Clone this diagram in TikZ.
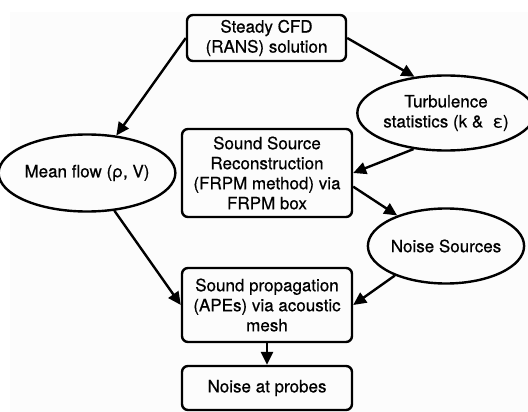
\documentclass[tikz,border=0pt]{standalone}
\usepackage{fontspec}
\setmainfont{TeX Gyre Heros}
\newfontfamily\medfont[FakeBold=0.6]{TeX Gyre Heros}
\usetikzlibrary{arrows.meta,shapes.geometric}
\tikzset{
  boxnode/.style={draw, line width=2.4pt, rounded corners=6pt, align=center, inner sep=0pt,
    font=\medfont\fontsize{17}{20}\selectfont},
  ellnode/.style={draw, ellipse, line width=2.4pt, align=center, inner sep=0pt,
    font=\medfont\fontsize{17}{20}\selectfont},
  conn/.style={line width=2.4pt, -{Triangle[length=13pt,width=12pt]}}
}
\begin{document}
\begin{tikzpicture}[x=1pt,y=-1pt]
\useasboundingbox (0,0) rectangle (528,412);
\fill[fill={rgb,255:red,252;green,252;blue,252}] (10,12) rectangle (528,412);
\node[boxnode, minimum width=159pt, minimum height=46pt] (top) at (266.5,38) {Steady CFD\\(RANS) solution};
\node[ellnode, minimum width=151pt, minimum height=75pt] (turb) at (446,113) {Turbulence\\statistics (k \&\ \ ε)};
\node[ellnode, minimum width=154pt, minimum height=77pt] (mean) at (87,173) {Mean flow (ρ, V)};
\node[boxnode, minimum width=170pt, minimum height=88pt] (src) at (267,173) {Sound Source\\Reconstruction\\(FRPM method) via\\FRPM box};
\node[ellnode, minimum width=151pt, minimum height=75pt] (noise) at (446,246) {Noise Sources};
\node[boxnode, minimum width=170pt, minimum height=74pt] (prop) at (267,305) {Sound propagation\\(APEs) via acoustic\\mesh};
\node[boxnode, minimum width=170pt, minimum height=44pt] (probes) at (267,388) {Noise at probes};
\draw[conn] (top.west) -- (mean.52);
\draw[conn] (top.east) -- (turb.131);
\draw[conn] (turb.228) -- (src.east);
\draw[conn] (src.-9) -- (noise.148);
\draw[conn] (mean.-54) -- (prop.west);
\draw[conn] (noise.210) -- (prop.east);
\draw[conn] (prop.south) -- (probes.north);
\end{tikzpicture}
\end{document}
